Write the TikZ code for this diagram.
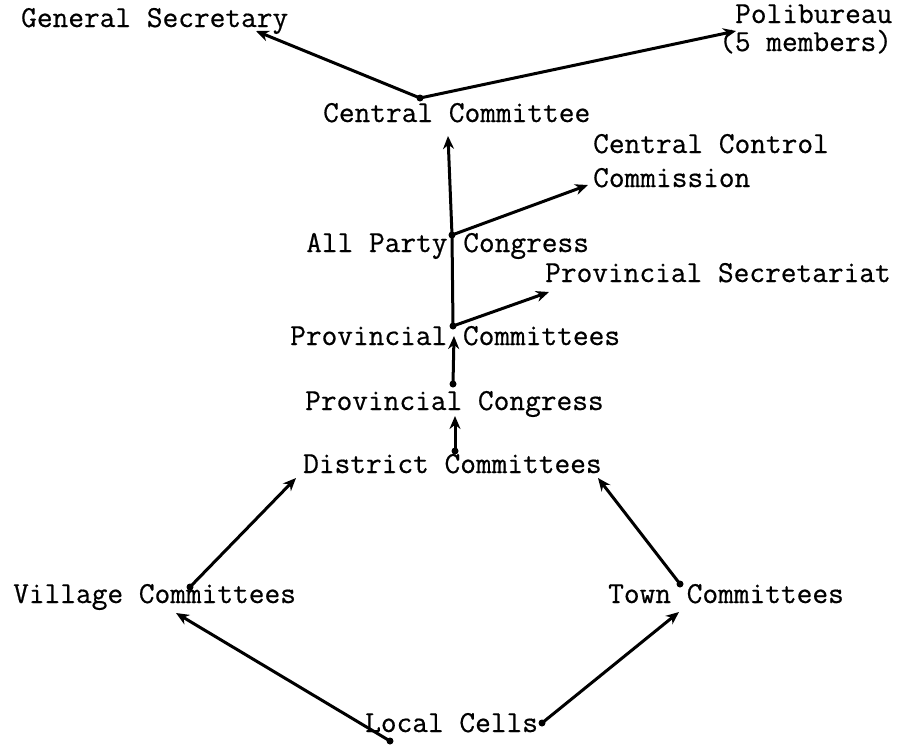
\documentclass[tikz,border=0pt]{standalone}
\usepackage{fontspec}
\newfontfamily\typew{lmmono12-regular.otf}[FakeBold=0.6]
\usetikzlibrary{arrows.meta}
\begin{document}
\begin{tikzpicture}[x=1pt,y=-1pt,
  lbl/.style={anchor=base west,inner sep=0pt,font=\typew\fontsize{30.5}{34}\selectfont},
  conn/.style={line width=3pt,-{Stealth[length=13pt,width=11pt]}},
  plain/.style={line width=3pt},
  jdot/.style={circle,fill=black,inner sep=0pt,minimum size=7pt}]
\useasboundingbox (0,0) rectangle (897,745);
% labels
\node[lbl] (gs) at (21,27) {General Secretary};
\node[lbl] (pb) at (735,23) {Polibureau};
\node[lbl] (pb2) at (719,51) {(5 members)};
\node[lbl] (cc) at (323,122) {Central Committee};
\node[lbl] (ccc) at (593,153) {Central Control};
\node[lbl] (ccc2) at (593,187) {Commission};
\node[lbl] (apc) at (306,252) {All Party Congress};
\node[lbl] (ps) at (545,282) {Provincial Secretariat};
\node[lbl] (pcm) at (290,345) {Provincial Committees};
\node[lbl] (pcg) at (305,410) {Provincial Congress};
\node[lbl] (dc) at (303,473) {District Committees};
\node[lbl] (vc) at (13,603) {Village Committees};
\node[lbl] (tc) at (608,603) {Town Committees};
\node[lbl] (lc) at (365,732) {Local Cells};
% junction points
\node[jdot] (jcc) at (420,98) {};
\node[jdot] (japc) at (452,235) {};
\node[jdot] (jpcm) at (453,326) {};
\node[jdot] (jpcg) at (453,384) {};
\node[jdot] (jdc) at (455,451) {};
\node[jdot] (jvc) at (190,587) {};
\node[jdot] (jtc) at (680,584) {};
\node[jdot] (jlc1) at (390,741) {};
\node[jdot] (jlc2) at (542,723) {};
% arrow targets
\coordinate (tgs) at (256,31);
\coordinate (tpb) at (736,31);
\coordinate (tcc) at (448,136);
\coordinate (tccc) at (588,185);
\coordinate (tps) at (549,292);
\coordinate (tpcm) at (454,336);
\coordinate (tpcg) at (455,416);
\coordinate (tdc1) at (296,478);
\coordinate (tdc2) at (598,478);
\coordinate (tvc) at (176,613);
\coordinate (ttc) at (679,612);
% connectors
\draw[conn] (jcc.center) -- (tgs);
\draw[conn] (jcc.center) -- (tpb);
\draw[plain] (jpcm.center) -- (japc.center);
\draw[conn] (japc.center) -- (tcc);
\draw[conn] (japc.center) -- (tccc);
\draw[conn] (jpcm.center) -- (tps);
\draw[conn] (jpcg.center) -- (tpcm);
\draw[conn] (jdc.center) -- (tpcg);
\draw[conn] (jvc.center) -- (tdc1);
\draw[conn] (jtc.center) -- (tdc2);
\draw[conn] (jlc1.center) -- (tvc);
\draw[conn] (jlc2.center) -- (ttc);
\end{tikzpicture}
\end{document}
